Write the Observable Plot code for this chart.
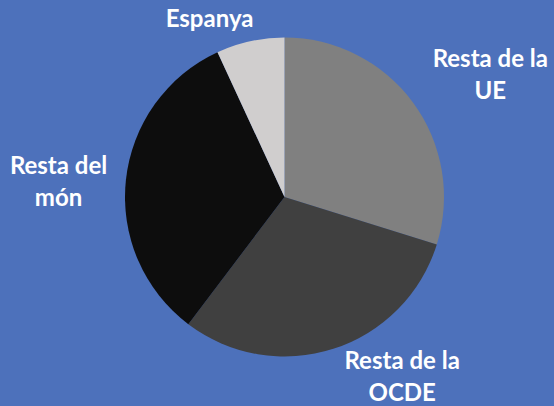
<!DOCTYPE html>
<html>
<head>
<meta charset="utf-8">
<script src="https://cdn.jsdelivr.net/npm/d3@7"></script>
<script src="https://cdn.jsdelivr.net/npm/@observablehq/plot@0.6"></script>
<style>
  html, body { margin: 0; padding: 0; background: #4d71bb; }
  #chart { width: 554px; height: 406px; }
</style>
</head>
<body>
<div id="chart"></div>
<script>
// ---- data ----
const categories = ["Resta de la UE", "Resta de la OCDE", "Resta del món", "Espanya"];
const values = [29.8, 30.5, 32.8, 6.9];
const labels = ["Resta de la\nUE", "Resta de la\nOCDE", "Resta del\nmón", "Espanya"];

// ---- style / layout ----
const sliceColors = ["#808080", "#404040", "#0d0d0d", "#d0cece"];
const W = 554, H = 406, R = 159.5, CX = 284.5, CY = 197;
// label placement relative to slice middle: [angle offset (deg), radius factor]
const labelPlacement = [[5.1, 1.506], [-15.7, 1.33], [-1.7, 1.424], [-10.27, 1.226]];

const table = categories.map((c, i) => ({category: c, value: values[i], label: labels[i]}));
const arcs = d3.pie().sort(null).value(d => d.value)(table);
const labelData = arcs.map((a, i) => {
  const mid = (a.startAngle + a.endAngle) / 2 + labelPlacement[i][0] * Math.PI / 180;
  const r = labelPlacement[i][1];
  return {label: a.data.label, x: r * Math.sin(mid), y: r * Math.cos(mid)};
});

const color = Plot.scale({color: {type: "ordinal", domain: categories, range: sliceColors}});

const pieMark = (index, scales) => {
  const g = d3.create("svg:g")
    .attr("transform", `translate(${scales.x(0)},${scales.y(0)})`);
  const radius = scales.x(1) - scales.x(0);
  const arc = d3.arc().innerRadius(0).outerRadius(radius);
  g.selectAll("path").data(arcs).join("path")
    .attr("d", arc)
    .attr("fill", d => color.apply(d.data.category));
  return g.node();
};

const chart = Plot.plot({
  width: W,
  height: H,
  margin: 0,
  style: {background: "#4d71bb", overflow: "visible"},
  x: {domain: [-1, 1], range: [CX - R, CX + R], axis: null},
  y: {domain: [-1, 1], range: [CY + R, CY - R], axis: null},
  marks: [
    pieMark,
    Plot.text(labelData, {
      x: "x", y: "y", text: "label",
      fill: "white",
      fontFamily: "Lato",
      fontWeight: "bold",
      fontSize: 24,
      lineHeight: 1.34,
      textAnchor: "middle",
      lineAnchor: "middle"
    })
  ]
});
document.getElementById("chart").appendChild(chart);
</script>
</body>
</html>
